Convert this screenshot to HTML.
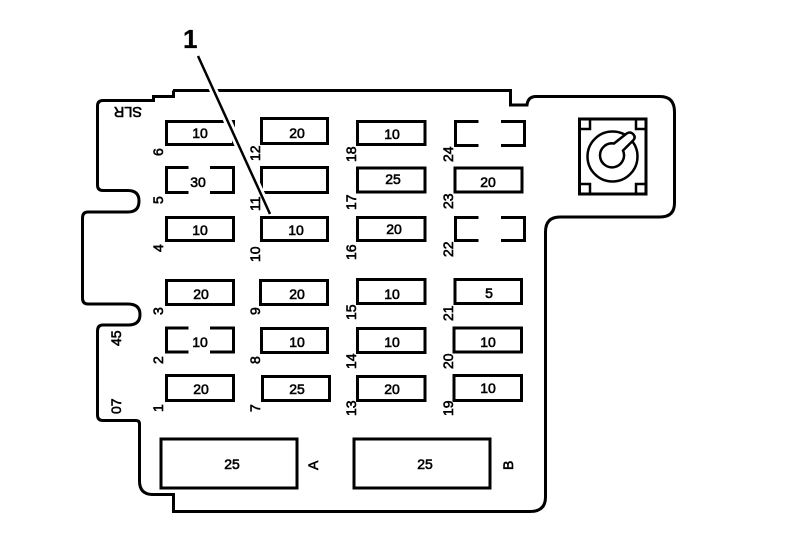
<!DOCTYPE html>
<html>
<head>
<meta charset="utf-8">
<style>
html,body{margin:0;padding:0;background:#fff;}
svg{display:block;}
.f{fill:none;stroke:#000;stroke-width:3;}
text{font-family:"Liberation Sans",sans-serif;font-size:14px;fill:#000;stroke:#000;stroke-width:.6;}
.c{text-anchor:middle;}
</style>
</head>
<body>
<svg width="800" height="554" viewBox="0 0 800 554" xmlns="http://www.w3.org/2000/svg">
<rect width="800" height="554" fill="#fff"/>
<path class="f" d="M173 90.500H510.500V105H527Q528 96.500 536 96.500H660Q674.500 96.500 674.500 112V203Q674.500 217 660 217H560Q545.500 217 545.500 232V497Q545.500 511.500 530 511.500H173.500V494.500H152Q139.500 494 139.500 481V424Q139.500 420.500 136 420.500H103Q97.500 420.500 97.500 415V331Q97.500 325 103 325H128Q140 325 140 314.500Q140 304 128 304H88Q82.500 304 82.500 298V218Q82.500 212 88 212H128Q139 212 139 201Q139 190.500 128 190.500H103Q97.500 190.500 97.500 185V106Q97.500 100.500 103 100.500H153.500V96.500H173.500V90.500"/>

<!-- Column 1 -->
<rect class="f" x="166.500" y="121.500" width="67" height="23"/>
<path class="f" d="M188.500 167.500H166.500V192.500H188.500M210 167.500H233.500V192.500H210"/>
<rect class="f" x="166.500" y="217.500" width="67" height="23"/>
<rect class="f" x="166.500" y="280.500" width="67" height="24"/>
<path class="f" d="M188.500 328H166.500V352H188.500M210 328H233.500V352H210"/>
<rect class="f" x="166.500" y="375.500" width="67" height="25"/>

<!-- Column 2 -->
<rect class="f" x="261.500" y="118.500" width="66" height="25"/>
<rect class="f" x="261.500" y="167.500" width="66" height="25"/>
<rect class="f" x="261.500" y="217.500" width="66" height="23"/>
<rect class="f" x="260.500" y="280.500" width="67" height="24"/>
<rect class="f" x="261.500" y="328.500" width="66" height="24"/>
<rect class="f" x="262.500" y="376.500" width="67" height="24"/>

<!-- Column 3 -->
<rect class="f" x="357.500" y="121.500" width="67.500" height="23"/>
<rect class="f" x="357.500" y="168" width="67.500" height="24"/>
<rect class="f" x="357.500" y="217.500" width="67.500" height="23"/>
<rect class="f" x="357.500" y="279.500" width="67.500" height="24"/>
<rect class="f" x="357.500" y="328.500" width="67.500" height="24"/>
<rect class="f" x="357.500" y="376.500" width="67.500" height="24"/>

<!-- Column 4 -->
<path class="f" d="M478.500 121.500H455.500V145.500H478.500M501 121.500H524.500V145.500H501"/>
<rect class="f" x="455" y="168" width="67" height="24"/>
<path class="f" d="M478.500 217.500H455.500V240.500H478.500M501 217.500H524.500V240.500H501"/>
<rect class="f" x="455" y="279.500" width="66.500" height="24"/>
<rect class="f" x="454" y="328" width="67.500" height="24"/>
<rect class="f" x="454" y="375.500" width="67.500" height="25"/>

<!-- Large fuses -->
<rect class="f" x="161" y="439" width="136" height="49"/>
<rect class="f" x="354" y="439" width="136" height="49"/>

<!-- Knob -->
<rect class="f" x="579.500" y="119" width="66.500" height="75"/>
<path d="M590 119V129H580M636 119V129H646M590 194V184H580M636 194V184H646" fill="none" stroke="#000" stroke-width="2.500"/>
<circle cx="612.500" cy="156.500" r="25" fill="none" stroke="#000" stroke-width="2.500"/>
<path fill="#fff" stroke="#000" stroke-width="2.500" d="M614 143.500L626 134Q630 131 633 134Q636 137 633.500 140L623 150.500A12 12 0 1 1 614 143.500Z"/>

<!-- Leader -->
<line x1="198" y1="56" x2="270" y2="214" stroke="#fff" stroke-width="8"/>
<line x1="198" y1="56" x2="270" y2="214" stroke="#000" stroke-width="2.500"/>

<!-- Fuse values -->
<text class="c" x="200" y="138">10</text>
<text class="c" x="198" y="187">30</text>
<text class="c" x="200" y="235">10</text>
<text class="c" x="201" y="299">20</text>
<text class="c" x="200" y="347">10</text>
<text class="c" x="201" y="394">20</text>
<text class="c" x="297" y="138">20</text>
<text class="c" x="296" y="235">10</text>
<text class="c" x="297" y="299">20</text>
<text class="c" x="297" y="347">10</text>
<text class="c" x="297" y="394">25</text>
<text class="c" x="392" y="139">10</text>
<text class="c" x="393" y="184">25</text>
<text class="c" x="394" y="234">20</text>
<text class="c" x="392" y="299">10</text>
<text class="c" x="392" y="347">10</text>
<text class="c" x="392" y="394">20</text>
<text class="c" x="488" y="187">20</text>
<text class="c" x="489" y="298">5</text>
<text class="c" x="488" y="347">10</text>
<text class="c" x="488" y="393">10</text>
<text class="c" x="232" y="469">25</text>
<text class="c" x="425" y="469">25</text>

<!-- Rotated labels -->
<text transform="translate(163,156) rotate(-90)">6</text>
<text transform="translate(163,204) rotate(-90)">5</text>
<text transform="translate(163,252) rotate(-90)">4</text>
<text transform="translate(163,315) rotate(-90)">3</text>
<text transform="translate(163,364) rotate(-90)">2</text>
<text transform="translate(163,412) rotate(-90)">1</text>
<text transform="translate(260,161) rotate(-90)">12</text>
<text transform="translate(260,211) rotate(-90)">11</text>
<text transform="translate(260,262) rotate(-90)">10</text>
<text transform="translate(260,315) rotate(-90)">9</text>
<text transform="translate(260,364) rotate(-90)">8</text>
<text transform="translate(260,412) rotate(-90)">7</text>
<text transform="translate(356,162) rotate(-90)">18</text>
<text transform="translate(356,210) rotate(-90)">17</text>
<text transform="translate(356,260) rotate(-90)">16</text>
<text transform="translate(356,320) rotate(-90)">15</text>
<text transform="translate(356,369) rotate(-90)">14</text>
<text transform="translate(356,416) rotate(-90)">13</text>
<text transform="translate(453,162) rotate(-90)">24</text>
<text transform="translate(453,209) rotate(-90)">23</text>
<text transform="translate(453,257) rotate(-90)">22</text>
<text transform="translate(453,321) rotate(-90)">21</text>
<text transform="translate(453,369) rotate(-90)">20</text>
<text transform="translate(453,416) rotate(-90)">19</text>
<text transform="translate(121,346) rotate(-90)">45</text>
<text transform="translate(121,414) rotate(-90)">07</text>
<text transform="translate(318,470) rotate(-90)">A</text>
<text transform="translate(513,470) rotate(-90)">B</text>
<text transform="translate(142,107) rotate(180)" style="font-size:14.500px">SLR</text>

<text x="183" y="48" style="font-size:26px;font-weight:bold;stroke-width:.3">1</text>
</svg>
</body>
</html>
